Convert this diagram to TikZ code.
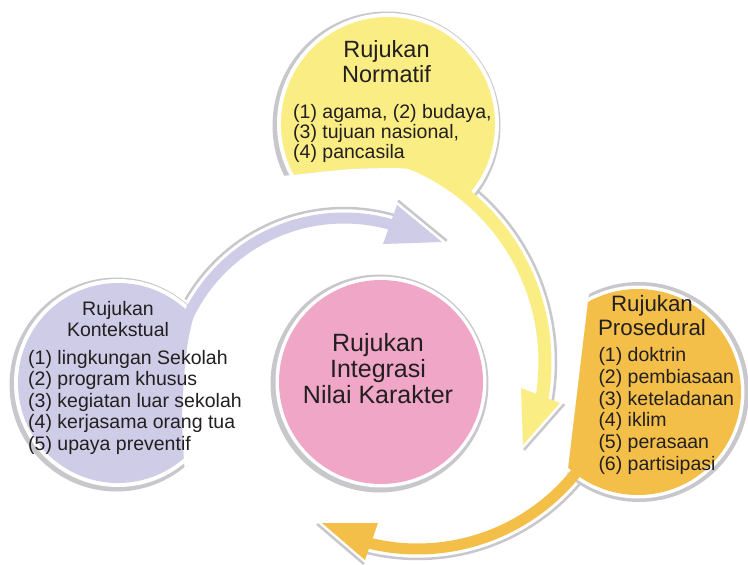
\documentclass[tikz,border=0pt]{standalone}
\usepackage{fontspec}
\setmainfont{Liberation Sans}
\definecolor{ylw}{HTML}{F9ED83}
\definecolor{lav}{HTML}{CECCE6}
\definecolor{pnk}{HTML}{F0A6C7}
\definecolor{org}{HTML}{F3BF48}
\definecolor{rim}{HTML}{C8C8CC}
\definecolor{txt}{HTML}{231F20}
\begin{document}
\begin{tikzpicture}[x=1pt,y=-1pt,
  ttlY/.style={anchor=base,inner sep=0pt,text=txt,font=\fontsize{23.5}{25}\selectfont},
  ttlO/.style={anchor=base,inner sep=0pt,text=txt,font=\fontsize{22.3}{24}\selectfont},
  ttlL/.style={anchor=base,inner sep=0pt,text=txt,font=\fontsize{19.5}{21}\selectfont},
  ttlP/.style={anchor=base,inner sep=0pt,text=txt,font=\fontsize{25}{27}\selectfont},
  item/.style={anchor=base west,inner sep=0pt,text=txt,font=\fontsize{19.5}{21}\selectfont},
  rimline/.style={draw=rim,line width=2.5pt},
]
\fill[white] (0,0) rectangle (748,565);
\useasboundingbox (0,0) rectangle (748,565);

% ---------- purple (Kontekstual) ----------
\begin{scope}
  \clip (0,250) -- (214,250) -- plot[smooth] coordinates {(206,275) (197,303) (187,347) (182,413) (185,473) (192,500)} -- (192,510) -- (0,510) -- cycle;
  \fill[rim] (116.5,384.5) circle[radius=107pt];
  \fill[white] (118,383) circle[radius=104pt];
  \fill[lav] (118,383) circle[radius=100pt];
\end{scope}

% ---------- yellow (Normatif) ----------
\begin{scope}
  \clip (265,0) -- (530,0) -- (530,230) -- (495,230) -- plot[smooth] coordinates {(490,215) (475,200) (455,182) (430,172) (400,168) (350,169) (300,174) (265,178)} -- cycle;
  \fill[rim] (386.5,125.5) circle[radius=114pt];
  \fill[white] (388,124) circle[radius=111pt];
  \fill[ylw] (388,124) circle[radius=107pt];
\end{scope}

% ---------- orange (Prosedural) ----------
\begin{scope}
  \clip (593,260) -- (748,260) -- (748,520) -- (562,520) -- cycle;
  \fill[rim] (639,392) circle[radius=110pt];
  \fill[white] (638,392) circle[radius=106.5pt];
  \fill[org] (638,392) circle[radius=103pt];
\end{scope}

% ---------- pink centre ----------
\fill[rim] (379.5,383.5) circle[radius=109pt];
\fill[white] (381,382) circle[radius=105.5pt];
\fill[pnk] (381,382) circle[radius=102pt];

% ---------- arrow shadows ----------
\draw[rimline] plot[domain=150:74,samples=60] ({344+183*cos(\x)},{391-183*sin(\x)});
\draw[rimline] plot[domain=49:-10,samples=60] ({330+226*cos(\x)},{362-226*sin(\x)});
\draw[rimline] plot[domain=-40:-104,samples=60] ({417.5+213*cos(\x)},{346-213*sin(\x)});

% ---------- arrow bands ----------
\draw[lav,line width=11pt] plot[domain=157:74,samples=60] ({344+173*cos(\x)},{391-173*sin(\x)});
\draw[ylw,line width=13pt] plot[domain=70:-10,samples=60] ({330+215*cos(\x)},{362-215*sin(\x)});
\draw[org,line width=11pt] plot[domain=-34:-104,samples=60] ({417.5+203*cos(\x)},{346-203*sin(\x)});

% ---------- arrow heads ----------
\coordinate (pT) at (442,242); \coordinate (pO) at (397,205); \coordinate (pI) at (383,244);
\coordinate (pS1) at (398,200.6); \coordinate (pS2) at (446.8,240.8);
\draw[rimline] (pS1) -- (pS2);
\fill[lav] (pO) -- (pT) -- (pI) -- cycle;

\coordinate (yT) at (523,445); \coordinate (yO) at (560,403); \coordinate (yI) at (521,388);
\coordinate (yS1) at (564.3,404.1); \coordinate (yS2) at (524,449.9);
\draw[rimline] (yS1) -- (yS2);
\fill[ylw] (yO) -- (yT) -- (yI) -- cycle;

\coordinate (oT) at (322,523); \coordinate (oO) at (365,560); \coordinate (oI) at (378,523);
\coordinate (oS1) at (363.9,564); \coordinate (oS2) at (317.1,524);
\draw[rimline] (oS1) -- (oS2);
\fill[org] (oO) -- (oT) -- (oI) -- cycle;

% ---------- texts ----------
\node[ttlY] (n1) at (386.5,57) {Rujukan};
\node[ttlY] (n2) at (386.5,82) {Normatif};
\node[item] (n3) at (293,118) {(1) agama, (2) budaya,};
\node[item] (n4) at (293,138) {(3) tujuan nasional,};
\node[item] (n5) at (293,158) {(4) pancasila};

\node[ttlL] (k1) at (118,315) {Rujukan};
\node[ttlL] (k2) at (118,336) {Kontekstual};
\node[item] (k3) at (28,364) {(1) lingkungan Sekolah};
\node[item] (k4) at (28,385.5) {(2) program khusus};
\node[item] (k5) at (28,407) {(3) kegiatan luar sekolah};
\node[item] (k6) at (28,428.5) {(4) kerjasama orang tua};
\node[item] (k7) at (28,450) {(5) upaya preventif};

\node[ttlO] (s1) at (652,311.7) {Rujukan};
\node[ttlO] (s2) at (652,335) {Prosedural};
\node[item] (s3) at (598.3,361.7) {(1) doktrin};
\node[item] (s4) at (598.3,383.3) {(2) pembiasaan};
\node[item] (s5) at (598.3,405) {(3) keteladanan};
\node[item] (s6) at (598.3,426.7) {(4) iklim};
\node[item] (s7) at (598.3,448.3) {(5) perasaan};
\node[item] (s8) at (598.3,470) {(6) partisipasi};

\node[ttlP] (c1) at (378,351.7) {Rujukan};
\node[ttlP] (c2) at (378,377.3) {Integrasi};
\node[ttlP] (c3) at (378,403.3) {Nilai Karakter};
\end{tikzpicture}
\end{document}
